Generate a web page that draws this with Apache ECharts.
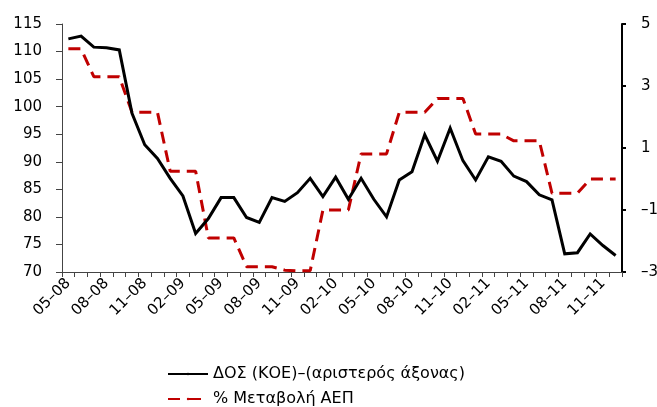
<!DOCTYPE html>
<html>
<head>
<meta charset="utf-8">
<script src="https://cdn.jsdelivr.net/npm/echarts@6/dist/echarts.min.js"></script>
<style>
  html, body { margin: 0; padding: 0; background: #fff; }
  #chart { width: 657px; height: 407px; }
</style>
</head>
<body>
<div id="chart"></div>
<script>
// Monthly periods, May 2008 – Dec 2011
const months = [
  '05–08','06–08','07–08','08–08','09–08','10–08','11–08','12–08',
  '01–09','02–09','03–09','04–09','05–09','06–09','07–09','08–09','09–09','10–09','11–09','12–09',
  '01–10','02–10','03–10','04–10','05–10','06–10','07–10','08–10','09–10','10–10','11–10','12–10',
  '01–11','02–11','03–11','04–11','05–11','06–11','07–11','08–11','09–11','10–11','11–11','12–11'
];

// ΔΟΣ (ΚΟΕ) index, left axis
const dosValues = [
  112.3, 112.8, 110.8, 110.7, 110.3, 98.8, 93.1, 90.6, 87.0, 83.8,
  77.0, 79.7, 83.5, 83.5, 79.9, 79.0, 83.5, 82.8, 84.4, 87.0,
  83.7, 87.2, 83.2, 87.0, 83.2, 80.0, 86.7, 88.2, 94.9, 90.1,
  96.1, 90.2, 86.7, 90.9, 90.1, 87.4, 86.4, 84.0, 83.1, 73.3,
  73.5, 76.9, 74.8, 73.0
];

// % change of GDP (quarterly, held for each month), right axis
const gdpChange = [
  4.2, 4.2, 3.3, 3.3, 3.3, 2.15, 2.15, 2.15, 0.25, 0.25,
  0.25, -1.9, -1.9, -1.9, -2.83, -2.83, -2.83, -2.94, -2.96, -2.96,
  -1.0, -1.0, -1.0, 0.81, 0.81, 0.81, 2.15, 2.15, 2.15, 2.6,
  2.6, 2.6, 1.45, 1.45, 1.45, 1.23, 1.23, 1.23, -0.46, -0.46,
  -0.46, 0.0, 0.0, 0.0
];

const seriesNames = ['ΔΟΣ (ΚΟΕ)–(αριστερός άξονας)', '% Μεταβολή ΑΕΠ'];

const leftTicks = { min: 70, max: 115, step: 5 };
const rightTicks = { min: -3, max: 5, step: 2 };

const FONT = 'DejaVu Sans';

const legendCommon = {
  orient: 'horizontal',
  left: 167,
  padding: 0,
  itemWidth: 40,
  itemHeight: 3,
  textStyle: { fontFamily: FONT, fontSize: 16, color: '#000' }
};

const chart = echarts.init(document.getElementById('chart'), null, { renderer: 'canvas' });

chart.setOption({
  animation: false,
  backgroundColor: '#ffffff',
  textStyle: { fontFamily: FONT, color: '#000' },
  grid: {
    left: 62, right: 35, top: 24, bottom: 135,
    containLabel: false,
    outerBoundsMode: 'none'
  },
  legend: [
    Object.assign({}, legendCommon, { top: 366, data: [seriesNames[0]] }),
    Object.assign({}, legendCommon, {
      top: 391,
      data: [seriesNames[1]],
      lineStyle: { type: [12, 9] }
    })
  ],
  xAxis: {
    type: 'category',
    data: months,
    boundaryGap: true,
    axisLine: { onZero: false, lineStyle: { color: '#444', width: 1 } },
    axisTick: { show: true, interval: 0, length: 5, lineStyle: { color: '#444' } },
    axisLabel: {
      interval: 2,
      rotate: 45,
      margin: 9,
      fontFamily: FONT,
      fontSize: 15,
      color: '#000'
    },
    splitLine: { show: false }
  },
  yAxis: [
    {
      type: 'value',
      position: 'left',
      min: leftTicks.min,
      max: leftTicks.max,
      interval: leftTicks.step,
      axisLine: { show: true, lineStyle: { color: '#444', width: 1 } },
      axisTick: { show: true, length: 6, lineStyle: { color: '#444' } },
      axisLabel: { margin: 20, fontFamily: FONT, fontSize: 15, color: '#000' },
      splitLine: { show: false }
    },
    {
      type: 'value',
      position: 'right',
      min: rightTicks.min,
      max: rightTicks.max,
      interval: rightTicks.step,
      axisLine: { show: true, lineStyle: { color: '#000', width: 2 } },
      axisTick: { show: true, length: 4, lineStyle: { color: '#000', width: 2 } },
      axisLabel: {
        margin: 19,
        fontFamily: FONT,
        fontSize: 15,
        color: '#000',
        formatter: v => (v < 0 ? '–' + Math.abs(v) : String(v))
      },
      splitLine: { show: false }
    }
  ],
  series: [
    {
      name: seriesNames[0],
      type: 'line',
      yAxisIndex: 0,
      data: dosValues,
      symbol: 'none',
      color: '#000000',
      lineStyle: { color: '#000000', width: 3, join: 'miter' },
      z: 3
    },
    {
      name: seriesNames[1],
      type: 'line',
      yAxisIndex: 1,
      data: gdpChange,
      symbol: 'none',
      color: '#c00000',
      lineStyle: { color: '#c00000', width: 3, type: [12, 7] },
      z: 2
    }
  ]
});
</script>
</body>
</html>
